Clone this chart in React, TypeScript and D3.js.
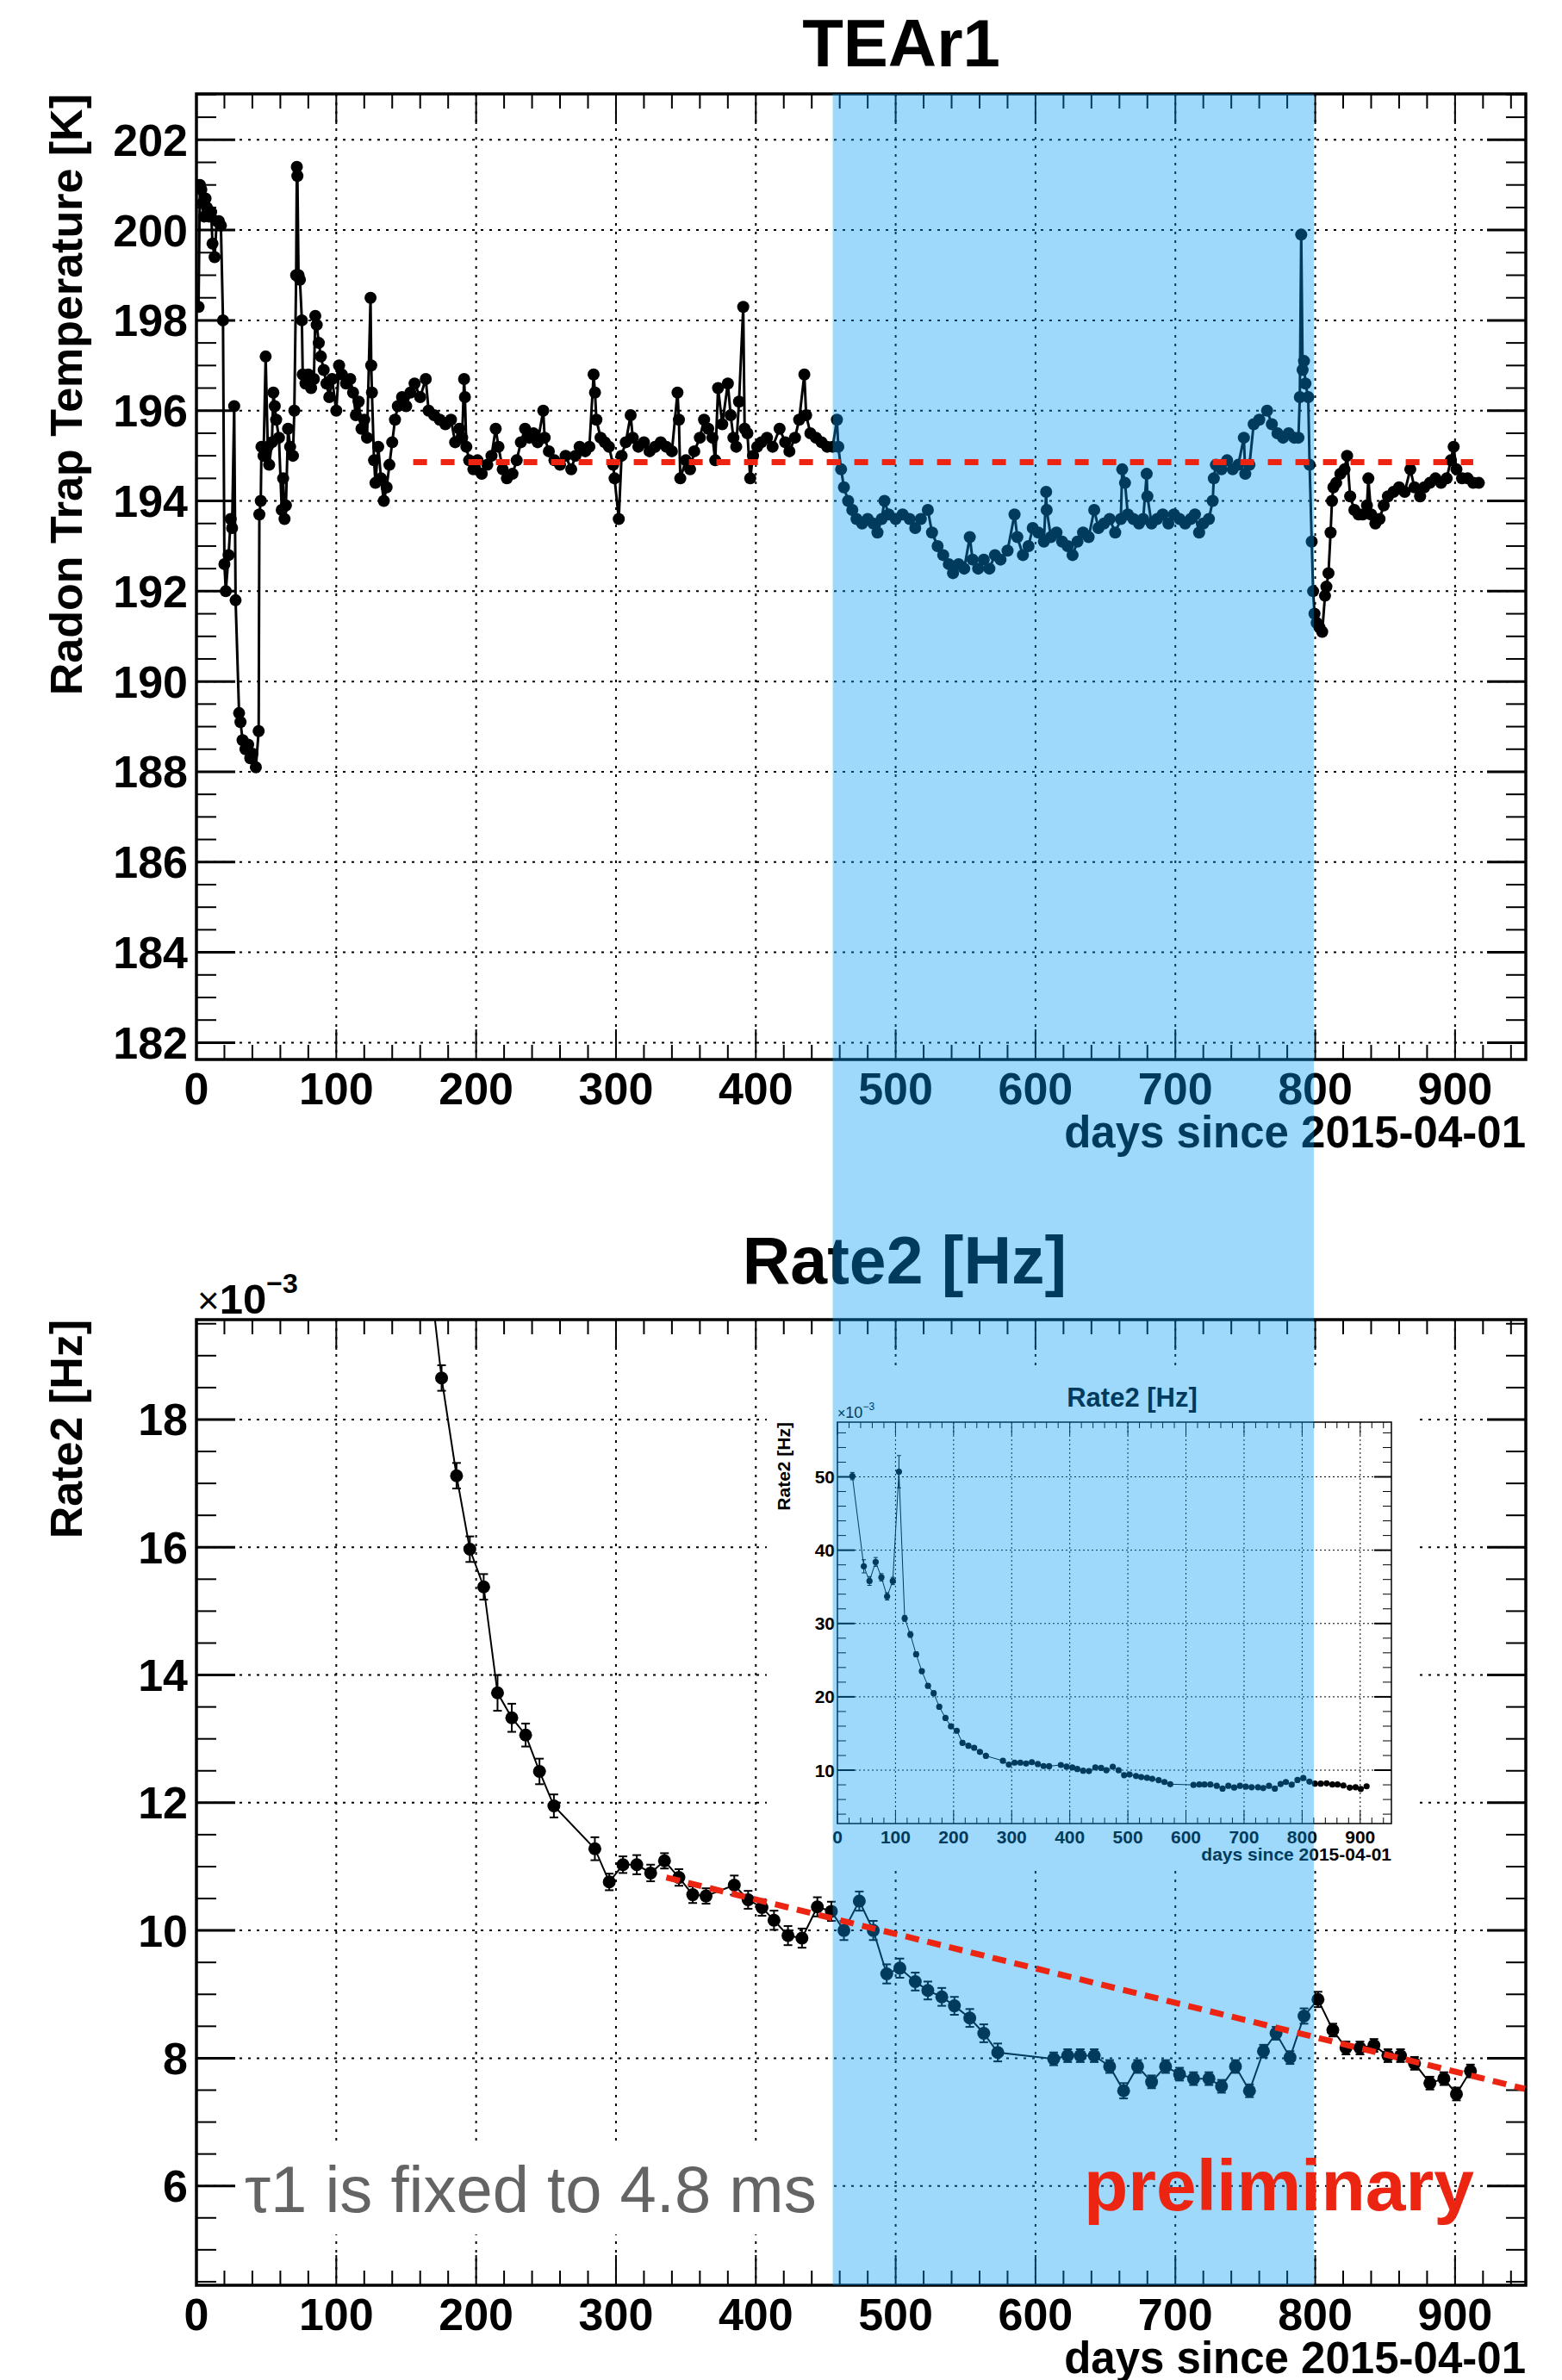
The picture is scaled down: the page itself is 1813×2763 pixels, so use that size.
import React from "react";
import * as d3 from "d3";

// ---------- DATA ----------
// Upper panel: TEAr1 radon trap temperature [K] vs days since 2015-04-01
const tearData: [number, number][] = [
  [1.5,198.3],[2.5,201.0],[3.5,200.9],[4.5,200.6],[5.5,200.3],[6.5,200.7],[7.5,200.5],[9,200.3],[10.5,200.4],[11.5,199.7],[13,199.4],[14.5,200.2],[16,200.2],[17.5,200.1],[19,198.0],[20,192.6],[21,192.0],[23,192.8],[24.5,193.6],[25.5,193.4],[27,196.1],[28,191.8],[30.5,189.3],[31.5,189.1],[33,188.7],[35,188.5],[37,188.6],[38.5,188.3],[40,188.4],[42.5,188.1],[44.5,188.9],[45,193.7],[46,194.0],[46.5,195.2],[48,195.0],[49.5,197.2],[51,195.2],[52,194.8],[54,195.3],[55,196.4],[56,196.1],[57,195.8],[59,195.4],[61,193.8],[62,194.5],[63,193.6],[64,193.9],[65.5,195.6],[67,195.2],[69,195.0],[70,196.0],[71.3,199.0],[71.8,201.4],[72.2,201.2],[73,199.0],[74,198.9],[75.4,198.0],[76,196.8],[78,196.6],[80,196.8],[82,196.5],[84,196.7],[85,198.1],[86,197.9],[87.5,197.5],[89,197.2],[91,196.9],[93,196.6],[95,196.3],[97,196.7],[100,196.0],[102,197.0],[104,196.8],[107,196.6],[110,196.7],[112,196.4],[114,195.9],[116,196.2],[118,195.6],[120,195.8],[122,195.4],[124.5,198.5],[125,197.0],[125.5,196.4],[127,194.9],[128,194.4],[130,195.2],[132,194.5],[134,194.0],[136,194.3],[138,194.8],[140,195.3],[142,195.8],[144,196.1],[147,196.3],[150,196.1],[153,196.4],[156,196.6],[160,196.3],[164,196.7],[166,196.0],[170,195.9],[174,195.8],[178,195.7],[182,195.8],[185,195.3],[188,195.6],[190,195.4],[191.4,196.7],[192,196.3],[193,195.2],[195,194.9],[198,194.7],[201,194.9],[204,194.6],[208,194.8],[211,195.0],[214,195.6],[216,195.2],[219,194.7],[222,194.5],[226,194.6],[229,194.9],[232,195.3],[235,195.6],[238,195.4],[241,195.5],[244,195.3],[248,196.0],[249,195.4],[252,195.1],[256,194.9],[260,194.8],[264,195.0],[268,194.7],[271,195.0],[274,195.2],[278,195.1],[281,195.2],[284,196.8],[285,196.4],[286,195.8],[289,195.4],[292,195.3],[295,195.2],[298,194.8],[299,194.5],[302,193.6],[304,195.0],[307,195.3],[310.5,195.9],[312,195.4],[316,195.2],[320,195.3],[324,195.1],[328,195.2],[332,195.3],[336,195.2],[340,195.1],[344,196.4],[345,195.8],[346,194.5],[350,194.9],[353,194.7],[356,195.1],[360,195.4],[363,195.8],[366,195.6],[369,195.4],[371,194.9],[373,196.5],[376,195.7],[380,196.6],[382,195.9],[384,195.4],[386,195.2],[388,196.2],[391,198.3],[392,195.6],[394,195.5],[396,194.5],[398,195.0],[401,195.2],[404,195.3],[408,195.4],[412,195.2],[417,195.6],[421,195.3],[424,195.1],[428,195.4],[431,195.8],[434.7,196.8],[436,195.9],[439,195.5],[443,195.4],[447,195.3],[451,195.2],[455,195.2],[458,195.8],[459,195.2],[461,194.7],[463,194.3],[466,194.0],[469,193.8],[472,193.6],[476,193.5],[480,193.6],[484,193.5],[487,193.3],[490,193.6],[492,194.0],[495,193.7],[500,193.6],[505,193.7],[510,193.6],[514,193.4],[518,193.6],[523,193.8],[526,193.3],[530,193.0],[534,192.8],[538,192.6],[541,192.4],[545,192.6],[549,192.5],[553,193.2],[555,192.7],[559,192.5],[563,192.7],[567,192.5],[571,192.8],[575,192.7],[580,192.9],[585,193.7],[587,193.2],[591,192.8],[595,193.0],[598,193.4],[602,193.3],[606,193.1],[607.6,194.2],[608,193.8],[611,193.2],[615,193.3],[619,193.1],[623,193.0],[626.5,192.8],[630,193.1],[634,193.3],[638,193.2],[642,193.8],[645,193.4],[649,193.5],[653,193.6],[657,193.3],[661,193.6],[662,194.7],[664,194.4],[666,193.7],[670,193.6],[674,193.5],[677,193.6],[679.5,194.6],[680,194.1],[683,193.5],[687,193.6],[691,193.7],[695,193.5],[699,193.7],[703,193.6],[707,193.5],[711,193.6],[714,193.7],[717,193.3],[720,193.5],[724,193.6],[726.7,194.0],[727.5,194.5],[729,194.8],[733,194.7],[737,194.9],[741,194.7],[745,194.8],[749,195.4],[750,194.6],[753,194.8],[756,195.7],[760,195.8],[765.6,196.0],[769,195.7],[773,195.5],[777,195.4],[781,195.5],[785,195.4],[788,195.4],[789,196.3],[790,199.9],[791,196.9],[792,197.1],[793,196.6],[795,196.3],[796,194.8],[797.5,193.1],[798.5,192.0],[799.5,191.5],[801,191.3],[803,191.2],[805,191.1],[807,191.9],[808,192.1],[809.5,192.4],[811,193.3],[812,194.0],[813,194.3],[815,194.4],[818,194.6],[821,194.7],[822.8,195.0],[825,194.1],[828,193.8],[831,193.7],[834,193.7],[837,193.9],[838,194.5],[840,193.7],[843,193.5],[846,193.6],[849,193.9],[852,194.1],[856,194.2],[860,194.3],[864,194.2],[868,194.7],[871,194.3],[875,194.1],[878,194.3],[882,194.4],[886,194.5],[890,194.4],[894,194.5],[897,194.9],[899,195.2],[901,194.7],[905,194.5],[909,194.5],[913,194.4],[917,194.4]
];
const tearRef: [number, number][] = [[155, 194.86], [913, 194.86]];

// Lower panel: Rate2 [Hz] (x1e-3) with errors
const rateDays = [25.7,45.4,55.2,65.8,75.7,85.5,95.3,105.9,115.8,125.6,135.5,145.3,155.9,165.7,175.3,186,195.5,205.4,215.3,225.5,235.4,245.3,255.6,284.9,295.2,305,314.9,324.8,334.7,345,354.9,364.4,384.6,394.5,404.4,413,423,433,444,454,463,474,484,493.6,503,514,523,533,542,553,563,573,613,623,632,642,653,663,673,683,693,703,713,724,733,743,753,763,772,782,792,802,812.6,822,832,842,852,861,871,882,892,901,911];
const rateVals = [50.1,37.8,35.8,38.4,36.3,33.7,35.8,50.7,30.7,28.5,25.8,23.5,21.5,20.5,18.65,17.12,15.97,15.38,13.72,13.33,13.06,12.49,11.95,11.28,10.76,11.03,11.03,10.9,11.09,10.83,10.56,10.54,10.71,10.48,10.36,10.16,9.92,9.88,10.37,10.3,10.0,10.46,10.0,9.32,9.41,9.2,9.06,8.96,8.82,8.63,8.39,8.09,7.99,8.04,8.04,8.04,7.87,7.49,7.87,7.63,7.87,7.75,7.68,7.68,7.56,7.87,7.49,8.11,8.39,8.01,8.66,8.92,8.44,8.16,8.16,8.2,8.04,8.04,7.92,7.61,7.68,7.44,7.8];
const rateErrs = [0.5,0.9,0.6,0.6,0.5,0.5,0.5,2.2,0.4,0.4,0.35,0.3,0.3,0.3,0.2,0.2,0.2,0.2,0.28,0.22,0.18,0.2,0.18,0.18,0.13,0.13,0.15,0.13,0.12,0.13,0.13,0.12,0.15,0.14,0.13,0.15,0.15,0.15,0.15,0.15,0.15,0.15,0.15,0.15,0.15,0.14,0.14,0.14,0.14,0.14,0.14,0.14,0.1,0.1,0.1,0.1,0.1,0.12,0.1,0.1,0.1,0.1,0.1,0.1,0.1,0.1,0.1,0.1,0.1,0.1,0.12,0.12,0.1,0.1,0.1,0.1,0.1,0.1,0.1,0.1,0.1,0.1,0.1];
const rateFit: [number, number][] = [[336, 10.83], [950, 7.52]];

const highlightDays: [number, number] = [455, 799];

const upperYTicks = [182,184,186,188,190,192,194,196,198,200,202];
const lowerYTicks = [6,8,10,12,14,16,18];
const insetYTicks = [10,20,30,40,50];
const xTicks = [0,100,200,300,400,500,600,700,800,900];

// ---------- LAYOUT ----------
const W = 1813, H = 2763;
const FONT = "'Liberation Sans', Arial, Helvetica, sans-serif";
const RED = "#ec2512";

const up = { L: 228, R: 1771, T: 109, B: 1230 };
const lo = { L: 228, R: 1771, T: 1532, B: 2653 };
const ins = { L: 972, R: 1615, T: 1651, B: 2117 };

const xU = d3.scaleLinear().domain([0, 950.6]).range([up.L, up.R]);
const yU = d3.scaleLinear().domain([181.626, 203.017]).range([up.B, up.T]);
const xL = d3.scaleLinear().domain([0, 950.6]).range([lo.L, lo.R]);
const yL = d3.scaleLinear().domain([4.445, 19.564]).range([lo.B, lo.T]);
const xI = d3.scaleLinear().domain([0, 953.7]).range([ins.L, ins.R]);
const yI = d3.scaleLinear().domain([2.72, 57.46]).range([ins.B, ins.T]);

function range(a: number, b: number, s: number) {
  const out: number[] = [];
  for (let i = 0; a + i * s <= b + 1e-9; i++) out.push(+(a + i * s).toFixed(6));
  return out;
}

type Box = { L: number; R: number; T: number; B: number };

function Grid({ box, x, y, xMajor, yMajor, gridW, gridDash }: any) {
  const b: Box = box;
  const els: any[] = [];
  xMajor.forEach((v: number, i: number) => {
    const px = x(v);
    if (px > b.L + 1 && px < b.R - 1)
      els.push(<line key={"gx" + i} x1={px} x2={px} y1={b.T} y2={b.B} stroke="#000" strokeWidth={gridW} strokeDasharray={gridDash} />);
  });
  yMajor.forEach((v: number, i: number) => {
    const py = y(v);
    els.push(<line key={"gy" + i} x1={b.L} x2={b.R} y1={py} y2={py} stroke="#000" strokeWidth={gridW} strokeDasharray={gridDash} />);
  });
  return <g>{els}</g>;
}

function Ticks({ box, x, y, xMajor, xMinor, yMajor, yMinor, big }: any) {
  const b: Box = box;
  const xm = big ? 35 : 15, xn = big ? 17 : 7, ym = big ? 45 : 20, yn = big ? 23 : 10;
  const tw = big ? 2 : 1;
  const els: any[] = [];
  xMajor.forEach((v: number, i: number) => {
    const px = x(v);
    els.push(<line key={"tx1" + i} x1={px} x2={px} y1={b.B} y2={b.B - xm} stroke="#000" strokeWidth={tw} />);
    els.push(<line key={"tx2" + i} x1={px} x2={px} y1={b.T} y2={b.T + xm} stroke="#000" strokeWidth={tw} />);
  });
  xMinor.forEach((v: number, i: number) => {
    const px = x(v);
    els.push(<line key={"nx1" + i} x1={px} x2={px} y1={b.B} y2={b.B - xn} stroke="#000" strokeWidth={tw} />);
    els.push(<line key={"nx2" + i} x1={px} x2={px} y1={b.T} y2={b.T + xn} stroke="#000" strokeWidth={tw} />);
  });
  yMajor.forEach((v: number, i: number) => {
    const py = y(v);
    els.push(<line key={"ty1" + i} x1={b.L} x2={b.L + ym} y1={py} y2={py} stroke="#000" strokeWidth={tw + 1} />);
    els.push(<line key={"ty2" + i} x1={b.R} x2={b.R - ym} y1={py} y2={py} stroke="#000" strokeWidth={tw + 1} />);
  });
  yMinor.forEach((v: number, i: number) => {
    const py = y(v);
    els.push(<line key={"ny1" + i} x1={b.L} x2={b.L + yn} y1={py} y2={py} stroke="#000" strokeWidth={tw} />);
    els.push(<line key={"ny2" + i} x1={b.R} x2={b.R - yn} y1={py} y2={py} stroke="#000" strokeWidth={tw} />);
  });
  return <g>{els}</g>;
}

export default function App() {
  const upperLine = d3.line<[number, number]>().x(d => xU(d[0])).y(d => yU(d[1]))(tearData) || "";
  const rate = rateDays.map((d, i) => ({ d, v: rateVals[i], e: rateErrs[i] }));
  const lowerLine = d3.line<any>().x(d => xL(d.d)).y(d => yL(d.v))(rate) || "";
  const insetLine = d3.line<any>().x(d => xI(d.d)).y(d => yI(d.v))(rate) || "";
  const upRefPath = d3.line()(tearRef.map(p => [xU(p[0]), yU(p[1])]) as any) || "";
  const loFitPath = d3.line()(rateFit.map(p => [xL(p[0]), yL(p[1])]) as any) || "";

  const xMinorMain = range(0, 950, 20).filter(v => v % 100 !== 0);
  const upYMinor = range(182, 203, 0.5).filter(v => v % 2 !== 0);
  const loYMinor = range(4.5, 19.5, 0.5).filter(v => v % 2 !== 0);
  const inYMinor = range(4, 56, 2).filter(v => v % 10 !== 0);

  return (
    <svg width={W} height={H} viewBox={`0 0 ${W} ${H}`} style={{ position: "absolute", left: 0, top: 0, background: "#fff" }} fontFamily={FONT}>
      <defs>
        <clipPath id="clipU"><rect x={up.L} y={up.T} width={up.R - up.L} height={up.B - up.T} /></clipPath>
        <clipPath id="clipL"><rect x={lo.L} y={lo.T} width={lo.R - lo.L} height={lo.B - lo.T} /></clipPath>
        <clipPath id="clipI"><rect x={ins.L} y={ins.T} width={ins.R - ins.L} height={ins.B - ins.T} /></clipPath>
      </defs>
      <rect x={0} y={0} width={W} height={H} fill="#fff" />

      {/* ===== Upper panel ===== */}
      <text x={1046} y={77} textAnchor="middle" fontWeight="bold" fontSize={78}>TEAr1</text>
      <Grid box={up} x={xU} y={yU} xMajor={xTicks} yMajor={upperYTicks} gridW={2} gridDash="3 7" />
      <Ticks box={up} x={xU} y={yU} xMajor={xTicks} xMinor={xMinorMain} yMajor={upperYTicks} yMinor={upYMinor} big />
      <g clipPath="url(#clipU)">
        <path d={upperLine} fill="none" stroke="#000" strokeWidth={3} />
        {tearData.map((p, i) => <circle key={i} cx={xU(p[0])} cy={yU(p[1])} r={7} fill="#000" />)}
      </g>
      <rect x={up.L} y={up.T} width={up.R - up.L} height={up.B - up.T} fill="none" stroke="#000" strokeWidth={3.5} />
      {upperYTicks.map(v => <text key={v} x={218} y={yU(v) + 18.5} textAnchor="end" fontWeight="bold" fontSize={52}>{v}</text>)}
      {xTicks.map(v => <text key={v} x={xU(v)} y={1282} textAnchor="middle" fontWeight="bold" fontSize={52}>{v}</text>)}
      <text x={1771} y={1332} textAnchor="end" fontWeight="bold" fontSize={51}>days since 2015-04-01</text>
      <text transform={`translate(95,${up.T}) rotate(-90)`} textAnchor="end" fontWeight="bold" fontSize={52}>Radon Trap Temperature [K]</text>

      {/* ===== Lower panel ===== */}
      <text x={1050} y={1490} textAnchor="middle" fontWeight="bold" fontSize={77}>Rate2 [Hz]</text>
      <Grid box={lo} x={xL} y={yL} xMajor={xTicks} yMajor={lowerYTicks} gridW={2} gridDash="3 7" />
      {/* white box behind annotation */}
      <rect x={272} y={2486} width={692} height={108} fill="#fff" />
      <text x={284} y={2568} fontSize={76} fill="#646464">τ1 is fixed to 4.8 ms</text>
      <Ticks box={lo} x={xL} y={yL} xMajor={xTicks} xMinor={xMinorMain} yMajor={lowerYTicks} yMinor={loYMinor} big />
      <g clipPath="url(#clipL)">
        <path d={lowerLine} fill="none" stroke="#000" strokeWidth={2} />
        {rate.map((p, i) => (
          <g key={i}>
            <line x1={xL(p.d)} x2={xL(p.d)} y1={yL(p.v - p.e)} y2={yL(p.v + p.e)} stroke="#000" strokeWidth={2} />
            <line x1={xL(p.d) - 5} x2={xL(p.d) + 5} y1={yL(p.v - p.e)} y2={yL(p.v - p.e)} stroke="#000" strokeWidth={2} />
            <line x1={xL(p.d) - 5} x2={xL(p.d) + 5} y1={yL(p.v + p.e)} y2={yL(p.v + p.e)} stroke="#000" strokeWidth={2} />
            <circle cx={xL(p.d)} cy={yL(p.v)} r={7.5} fill="#000" />
          </g>
        ))}
      </g>
      <rect x={lo.L} y={lo.T} width={lo.R - lo.L} height={lo.B - lo.T} fill="none" stroke="#000" strokeWidth={3.5} />
      {lowerYTicks.map(v => <text key={v} x={218} y={yL(v) + 18.5} textAnchor="end" fontWeight="bold" fontSize={52}>{v}</text>)}
      {xTicks.map(v => <text key={v} x={xL(v)} y={2705} textAnchor="middle" fontWeight="bold" fontSize={52}>{v}</text>)}
      <text x={1771} y={2755} textAnchor="end" fontWeight="bold" fontSize={51}>days since 2015-04-01</text>
      <text transform={`translate(95,${lo.T}) rotate(-90)`} textAnchor="end" fontWeight="bold" fontSize={52}>Rate2 [Hz]</text>
      <text x={229} y={1525} fontSize={49}>
        <tspan fontSize={44}>×</tspan><tspan fontWeight="bold">10</tspan><tspan fontWeight="bold" fontSize={32} dy={-24}>−3</tspan>
      </text>

      {/* ===== Inset ===== */}
      <rect x={890} y={1590} width={755} height={580} fill="#fff" />
      <text x={1314} y={1633} textAnchor="middle" fontWeight="bold" fontSize={31}>Rate2 [Hz]</text>
      <Grid box={ins} x={xI} y={yI} xMajor={xTicks} yMajor={insetYTicks} gridW={1} gridDash="2 3" />
      <Ticks box={ins} x={xI} y={yI} xMajor={xTicks} xMinor={xMinorMain} yMajor={insetYTicks} yMinor={inYMinor} big={false} />
      <g clipPath="url(#clipI)">
        <path d={insetLine} fill="none" stroke="#000" strokeWidth={1} />
        {rate.map((p, i) => (
          <g key={i}>
            <line x1={xI(p.d)} x2={xI(p.d)} y1={yI(p.v - p.e)} y2={yI(p.v + p.e)} stroke="#000" strokeWidth={1} />
            <line x1={xI(p.d) - 2.5} x2={xI(p.d) + 2.5} y1={yI(p.v - p.e)} y2={yI(p.v - p.e)} stroke="#000" strokeWidth={1} />
            <line x1={xI(p.d) - 2.5} x2={xI(p.d) + 2.5} y1={yI(p.v + p.e)} y2={yI(p.v + p.e)} stroke="#000" strokeWidth={1} />
            <circle cx={xI(p.d)} cy={yI(p.v)} r={3.6} fill="#000" />
          </g>
        ))}
      </g>
      <rect x={ins.L} y={ins.T} width={ins.R - ins.L} height={ins.B - ins.T} fill="none" stroke="#000" strokeWidth={1.5} />
      {insetYTicks.map(v => <text key={v} x={969} y={yI(v) + 7.5} textAnchor="end" fontWeight="bold" fontSize={21}>{v}</text>)}
      {xTicks.map(v => <text key={v} x={xI(v)} y={2140} textAnchor="middle" fontWeight="bold" fontSize={21}>{v}</text>)}
      <text x={1615} y={2160} textAnchor="end" fontWeight="bold" fontSize={21}>days since 2015-04-01</text>
      <text transform={`translate(917,${ins.T}) rotate(-90)`} textAnchor="end" fontWeight="bold" fontSize={21}>Rate2 [Hz]</text>
      <text x={972} y={1646} fontSize={18}>
        <tspan fontSize={16}>×</tspan><tspan>10</tspan><tspan fontSize={12} dy={-9}>−3</tspan>
      </text>

      {/* ===== Highlight band overlay ===== */}
      <rect x={xU(highlightDays[0])} y={up.T} width={xU(highlightDays[1]) - xU(highlightDays[0])} height={lo.B - up.T}
        fill="rgb(0,153,242)" fillOpacity={0.38} />

      {/* ===== Red elements drawn above the band ===== */}
      <g clipPath="url(#clipU)">
        <path d={upRefPath} stroke={RED} strokeWidth={7} strokeDasharray="16 16" fill="none" />
      </g>
      <g clipPath="url(#clipL)">
        <path d={loFitPath} stroke={RED} strokeWidth={7} strokeDasharray="16 10" fill="none" />
      </g>
      <text x={1258} y={2566} fontSize={84} fontWeight="bold" fill={RED}>preliminary</text>
    </svg>
  );
}
